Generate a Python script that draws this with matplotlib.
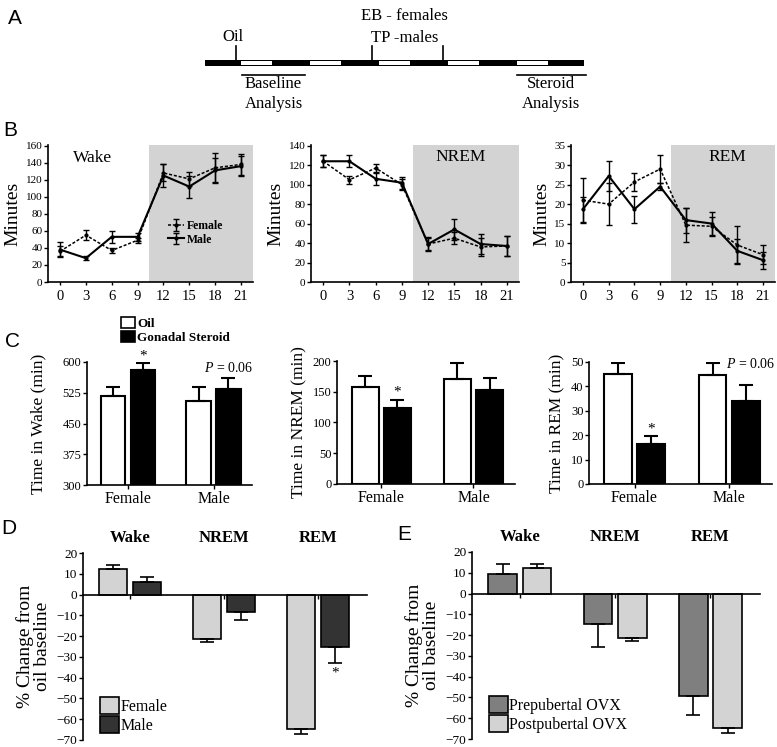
import matplotlib.pyplot as plt
from matplotlib.patches import Patch, Rectangle
import numpy as np

plt.rcParams['font.family'] = ['Liberation Serif', 'DejaVu Serif']
plt.rcParams['mathtext.fontset'] = 'custom'
plt.rcParams['mathtext.it'] = 'Liberation Serif:italic'
plt.rcParams['mathtext.rm'] = 'Liberation Serif'
plt.rcParams['axes.linewidth'] = 1.2
plt.rcParams['xtick.major.width'] = 1.0
plt.rcParams['ytick.major.width'] = 1.0
plt.rcParams['xtick.major.size'] = 3
plt.rcParams['ytick.major.size'] = 3

W, H = 777, 747

# ---- panel A: timeline ----
n_segments = 11
oil_at = 0.9
eb_at = 4.85
tp_at = 6.9
baseline_window = (1.08, 2.9)
steroid_window = (9.05, 11.05)

# ---- panel B: time course (minutes) ----
days = [0, 3, 6, 9, 12, 15, 18, 21]
wake_f = [36, 55, 37, 49, 128, 121, 134, 138]
wake_f_err = [6, 6, 3, 3, 10, 8, 17, 12]
wake_m = [38, 28, 53, 53, 125, 112, 131, 136]
wake_m_err = [9, 2, 7, 5, 13, 13, 15, 12]
nrem_f = [124, 105, 117, 100, 39, 45, 36, 37]
nrem_f_err = [6, 4, 4, 6, 6, 6, 9, 10]
nrem_m = [124, 124, 106, 102, 39, 54, 39, 37]
nrem_m_err = [6, 6, 6, 6, 7, 11, 10, 10]
rem_f = [21, 20, 25.7, 29, 14.6, 14.3, 9.5, 7]
rem_f_err = [5.8, 5.3, 2.4, 3.5, 4.3, 2.5, 5, 2.4]
rem_m = [18.7, 27.2, 18.7, 24.5, 15.9, 15, 8, 5.6]
rem_m_err = [3.2, 3.8, 3.5, 1, 3.2, 3, 3, 2.2]

# ---- panel C: totals ----
sexes = ['Female', 'Male']
wake_oil = [517, 505]
wake_oil_err = [22, 33]
wake_ster = [580, 534]
wake_ster_err = [17, 27]
nrem_oil = [158, 170]
nrem_oil_err = [18, 27]
nrem_ster = [124, 153]
nrem_ster_err = [13, 19]
rem_oil = [45, 44.7]
rem_oil_err = [4.5, 5]
rem_ster = [16.5, 34]
rem_ster_err = [3, 6.5]

# ---- panels D, E: % change ----
states = ['Wake', 'NREM', 'REM']
pct_female = [12.5, -21.5, -64.5]
pct_female_err = [1.5, 1.3, 2.7]
pct_male = [6, -8.5, -25]
pct_male_err = [2.5, 3.8, 8]
pct_prepub = [9.5, -14.5, -49.5]
pct_prepub_err = [4.5, 11, 9]
pct_postpub = [12.5, -21.5, -64.5]
pct_postpub_err = [1.5, 1.2, 2.7]

LIGHT = '#d3d3d3'
DARK = '#333333'
MID = '#7f7f7f'


def ax_px(fig, x0, y0, x1, y1):
    return fig.add_axes([x0 / W, 1 - y1 / H, (x1 - x0) / W, (y1 - y0) / H])


def clean(ax):
    ax.spines['top'].set_visible(False)
    ax.spines['right'].set_visible(False)
    ax.tick_params(direction='out')


fig = plt.figure(figsize=(W / 100, H / 100), dpi=100)

# panel letters
for letter, x, y in [('A', 15, 18), ('B', 10, 131), ('C', 12, 342), ('D', 9, 528), ('E', 404, 535)]:
    fig.text(x / W, 1 - y / H, letter, fontsize=15, family='Liberation Sans', ha='center', va='center')

# ---------- A ----------
axA = ax_px(fig, 0, 0, W, 115)
scale = (584 - 205) / n_segments
axA.set_xlim(-205 / scale, n_segments + (W - 584) / scale)
axA.set_ylim(115, 0)
axA.axis('off')
axA.add_patch(Rectangle((0, 59.5), n_segments, 6.5, color='black', lw=0))
for i in range(1, n_segments, 2):
    axA.add_patch(Rectangle((i + 0.05, 60.9), 0.9, 3.8, facecolor='white', edgecolor='none'))
for pos in [oil_at, eb_at, tp_at]:
    axA.plot([pos, pos], [46, 60], color='black', lw=1.2)
axA.text(oil_at - 0.1, 37, 'Oil', ha='center', va='center', fontsize=12)
axA.text(eb_at + 0.95, 16, 'EB - females', ha='center', va='center', fontsize=12)
axA.text(eb_at + 0.95, 38, 'TP -males', ha='center', va='center', fontsize=12)
for (a, b), lab in [(baseline_window, 'Baseline\nAnalysis'), (steroid_window, 'Steroid\nAnalysis')]:
    axA.plot([a, b], [74.5, 74.5], color='black', lw=1.2)
    axA.text((a + b) / 2, 94, lab, ha='center', va='center', fontsize=12, linespacing=1.3)

# ---------- B ----------
b_specs = [
    ((48, 145, 253, 282), wake_f, wake_f_err, wake_m, wake_m_err, 160, 20, 'Wake', (3.8, 146)),
    ((311, 145, 519, 282), nrem_f, nrem_f_err, nrem_m, nrem_m_err, 140, 20, 'NREM', (15.7, 128)),
    ((571, 145, 775, 282), rem_f, rem_f_err, rem_m, rem_m_err, 35, 5, 'REM', (16.8, 32)),
]
for i, (box, f, fe, m, me, ymax, ystep, title, tpos) in enumerate(b_specs):
    ax = ax_px(fig, *box)
    clean(ax)
    ax.set_xlim(-1.4, 22.4)
    ax.set_ylim(0, ymax * 1.005)
    ax.axvspan(10.3, 22.4, color=LIGHT, lw=0, zorder=0)
    ax.errorbar(days, f, yerr=fe, color='black', ls=(0, (2, 1.2)), lw=1.1, marker='o', ms=2,
                capsize=2, elinewidth=1, label='Female')
    ax.errorbar(days, m, yerr=me, color='black', ls='-', lw=1.5, marker='o', ms=2,
                capsize=2, elinewidth=1, label='Male')
    ax.set_xticks(days)
    ax.set_yticks(np.arange(0, ymax + 1, ystep))
    ax.tick_params(axis='x', labelsize=10.5, length=2)
    ax.tick_params(axis='y', labelsize=8, length=3, pad=1)
    ax.set_ylabel('Minutes', fontsize=14, labelpad=3)
    ax.text(*tpos, title, ha='center', va='center', fontsize=12.5)
    if i == 0:
        ax.legend(loc='center', bbox_to_anchor=(0.72, 0.36), frameon=False, handlelength=1.4,
                  prop={'weight': 'bold', 'size': 8.5}, labelspacing=0.15,
                  handletextpad=0.2)

# ---------- C ----------
c_specs = [
    ((87, 362, 252, 485), wake_oil, wake_oil_err, wake_ster, wake_ster_err, (300, 600), 75,
     'Time in Wake (min)', 12),
    ((337, 361, 515, 484), nrem_oil, nrem_oil_err, nrem_ster, nrem_ster_err, (0, 200), 50,
     'Time in NREM (min)', 4),
    ((589, 362, 772, 484), rem_oil, rem_oil_err, rem_ster, rem_ster_err, (0, 50), 10,
     'Time in REM (min)', 4),
]
x = np.arange(len(sexes))
bw = 0.29
off = 0.175
c_axes = []
for box, oil, oile, ster, stere, ylim, ystep, ylab, lpad in c_specs:
    ax = ax_px(fig, *box)
    clean(ax)
    ax.bar(x - off, oil, bw, color='white', edgecolor='black', lw=1.5,
           yerr=[np.zeros(2), oile], capsize=5, error_kw={'elinewidth': 1.5, 'capthick': 1.5})
    ax.bar(x + off, ster, bw, color='black', edgecolor='black', lw=1.5,
           yerr=[np.zeros(2), stere], capsize=5, error_kw={'elinewidth': 1.5, 'capthick': 1.5})
    ax.set_ylim(*ylim)
    ax.set_xlim(-0.48, 1.45)
    ax.set_yticks(np.arange(ylim[0], ylim[1] + 1, ystep))
    ax.set_xticks(x)
    ax.set_xticklabels(sexes)
    ax.tick_params(axis='x', labelsize=11.5, length=3, pad=1)
    ax.tick_params(axis='y', labelsize=9, length=3, pad=1)
    ax.set_ylabel(ylab, fontsize=12.5, labelpad=lpad)
    c_axes.append(ax)

axC1, axC2, axC3 = c_axes
axC1.text(x[0] + off, wake_ster[0] + wake_ster_err[0] + 1, '*', ha='center', va='bottom', fontsize=11)
axC1.text(x[1] + off, wake_ster[1] + wake_ster_err[1] + 8, '$P$ = 0.06', ha='center', va='bottom', fontsize=10)
axC2.text(x[0] + off, nrem_ster[0] + nrem_ster_err[0] + 2, '*', ha='center', va='bottom', fontsize=11)
axC3.text(x[0] + off, rem_ster[0] + rem_ster_err[0] + 0.5, '*', ha='center', va='bottom', fontsize=11)
axC3.text(x[1] + off + 0.05, rem_oil[1] + 1.5, '$P$ = 0.06', ha='center', va='bottom', fontsize=10)

fig.legend(handles=[Patch(facecolor='white', edgecolor='black', lw=1.2),
                    Patch(facecolor='black', edgecolor='black', lw=1.2)],
           labels=['Oil', 'Gonadal Steroid'], loc='upper left',
           bbox_to_anchor=(114 / W, 1 - 310 / H), frameon=False, handlelength=1.1,
           handleheight=1.0, handletextpad=0.15, labelspacing=0.05, borderpad=0,
           prop={'weight': 'bold', 'size': 9.5})

# ---------- D, E ----------
de_specs = [
    ((83, 553, 367, 740), pct_female, pct_female_err, LIGHT, 'Female',
     pct_male, pct_male_err, DARK, 'Male'),
    ((472, 552, 760, 739), pct_prepub, pct_prepub_err, MID, 'Prepubertal OVX',
     pct_postpub, pct_postpub_err, LIGHT, 'Postpubertal OVX'),
]
xs = np.arange(len(states))
de_axes = []
for box, v1, e1, c1, l1, v2, e2, c2, l2 in de_specs:
    ax = ax_px(fig, *box)
    clean(ax)
    ax.spines['bottom'].set_position(('data', 0))
    for vals, errs, col, lab, sgn in [(v1, e1, c1, l1, -1), (v2, e2, c2, l2, 1)]:
        lo = [e if v < 0 else 0 for v, e in zip(vals, errs)]
        hi = [e if v > 0 else 0 for v, e in zip(vals, errs)]
        ax.bar(xs + sgn * 0.18, vals, 0.3, color=col, edgecolor='black', lw=1.2, label=lab,
               yerr=[lo, hi], capsize=5, error_kw={'elinewidth': 1.2, 'capthick': 1.2})
    ax.set_xlim(-0.5, 2.52)
    ax.set_ylim(-70, 20)
    ax.set_yticks(np.arange(-70, 21, 10))
    ax.set_xticks(xs)
    ax.set_xticklabels([])
    ax.tick_params(axis='y', labelsize=9.5, length=3, pad=1)
    ax.tick_params(axis='x', length=3)
    ax.set_ylabel('% Change from\noil baseline', fontsize=14, labelpad=4, linespacing=1.0)
    for xi, s in zip(xs, states):
        ax.text(xi, 27, s, ha='center', va='center', fontsize=12, weight='bold')
    ax.legend(loc='lower left', bbox_to_anchor=(0.03, -0.01), frameon=False, handlelength=1.2,
              handleheight=1.2, handletextpad=0.1, labelspacing=0.1, borderpad=0, fontsize=11.5)
    de_axes.append(ax)

axD = de_axes[0]
axD.text(xs[2] + 0.18, pct_male[2] - pct_male_err[2] - 1.5, '*', ha='center', va='top', fontsize=11)

fig.savefig('out.png', dpi=100)
